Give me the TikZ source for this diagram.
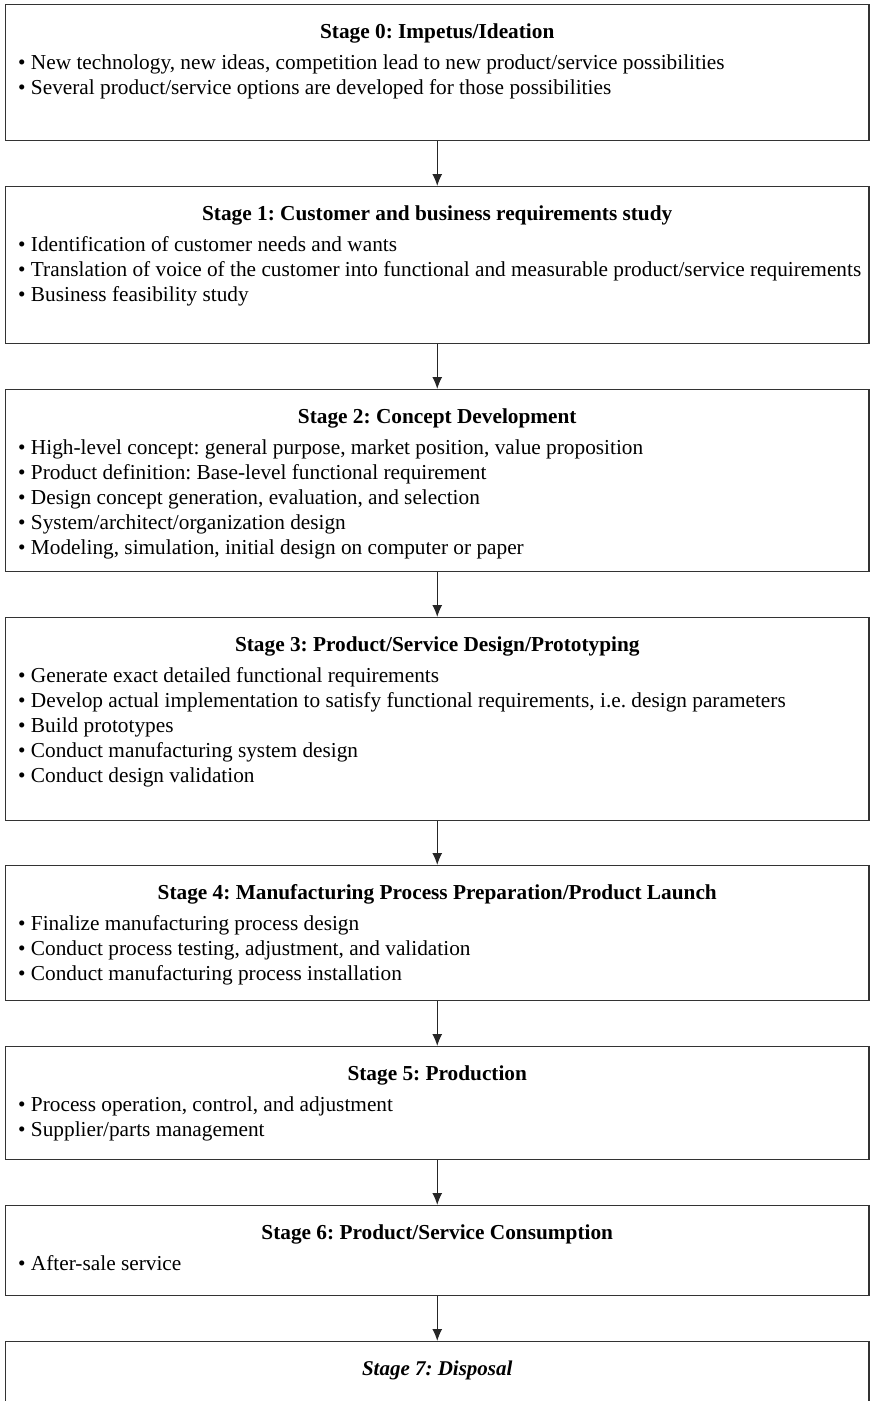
\documentclass[tikz,border=0pt]{standalone}
\usepackage{fontspec}
\setmainfont{Liberation Serif}
\usetikzlibrary{arrows.meta}
\frenchspacing

\begin{document}
\begin{tikzpicture}[x=1pt,y=-1pt,
  stagebox/.style={draw=black!80, line width=1.3pt, rectangle, minimum width=863.5pt,
    inner sep=0pt, anchor=north},
  stagetitle/.style={font=\fontsize{21.3}{25}\selectfont\bfseries, anchor=base, inner sep=0pt},
  item/.style={font=\fontsize{21.3}{25}\selectfont, anchor=base west, inner sep=0pt},
  flow/.style={draw=black!85, line width=1.2pt, -{Latex[length=12pt,width=10pt]}}]

\useasboundingbox (0,0) rectangle (871,1401);
\clip (0,0) rectangle (871,1401);

% stage boxes: top edge and height
\node[stagebox, minimum height=136pt] (s0) at (437.25,4) {};
\node[stagebox, minimum height=157pt] (s1) at (437.25,186) {};
\node[stagebox, minimum height=182pt] (s2) at (437.25,389) {};
\node[stagebox, minimum height=203pt] (s3) at (437.25,617) {};
\node[stagebox, minimum height=135pt] (s4) at (437.25,865) {};
\node[stagebox, minimum height=113pt] (s5) at (437.25,1046) {};
\node[stagebox, minimum height=90pt]  (s6) at (437.25,1205) {};
\node[stagebox, minimum height=120pt] (s7) at (437.25,1341) {};

% titles
\node[stagetitle] (t0) at (437.25,38)   {Stage 0: Impetus/Ideation};
\node[stagetitle] (t1) at (437.25,220)  {Stage 1: Customer and business requirements study};
\node[stagetitle] (t2) at (437.25,423)  {Stage 2: Concept Development};
\node[stagetitle] (t3) at (437.25,651)  {Stage 3: Product/Service Design/Prototyping};
\node[stagetitle] (t4) at (437.25,899)  {Stage 4: Manufacturing Process Preparation/Product Launch};
\node[stagetitle] (t5) at (437.25,1080) {Stage 5: Production};
\node[stagetitle] (t6) at (437.25,1239) {Stage 6: Product/Service Consumption};
\node[stagetitle, font=\fontsize{21}{25}\selectfont\bfseries\itshape] (t7) at (437.25,1375) {Stage 7: Disposal};

% bullet items
\node[item] (i01) at (18,69)  {• New technology, new ideas, competition lead to new product/service possibilities};
\node[item] (i02) at (18,94)  {• Several product/service options are developed for those possibilities};

\node[item] (i11) at (18,251) {• Identification of customer needs and wants};
\node[item] (i12) at (18,276) {• Translation of voice of the customer into functional and measurable product/service requirements};
\node[item] (i13) at (18,301) {• Business feasibility study};

\node[item] (i21) at (18,454) {• High-level concept: general purpose, market position, value proposition};
\node[item] (i22) at (18,479) {• Product definition: Base-level functional requirement};
\node[item] (i23) at (18,504) {• Design concept generation, evaluation, and selection};
\node[item] (i24) at (18,529) {• System/architect/organization design};
\node[item] (i25) at (18,554) {• Modeling, simulation, initial design on computer or paper};

\node[item] (i31) at (18,682) {• Generate exact detailed functional requirements};
\node[item] (i32) at (18,707) {• Develop actual implementation to satisfy functional requirements, i.e. design parameters};
\node[item] (i33) at (18,732) {• Build prototypes};
\node[item] (i34) at (18,757) {• Conduct manufacturing system design};
\node[item] (i35) at (18,782) {• Conduct design validation};

\node[item] (i41) at (18,930) {• Finalize manufacturing process design};
\node[item] (i42) at (18,955) {• Conduct process testing, adjustment, and validation};
\node[item] (i43) at (18,980) {• Conduct manufacturing process installation};

\node[item] (i51) at (18,1111) {• Process operation, control, and adjustment};
\node[item] (i52) at (18,1136) {• Supplier/parts management};

\node[item] (i61) at (18,1270) {• After-sale service};

% flow between stages
\draw[flow] (s0.south) -- (s1.north);
\draw[flow] (s1.south) -- (s2.north);
\draw[flow] (s2.south) -- (s3.north);
\draw[flow] (s3.south) -- (s4.north);
\draw[flow] (s4.south) -- (s5.north);
\draw[flow] (s5.south) -- (s6.north);
\draw[flow] (s6.south) -- (s7.north);
\end{tikzpicture}
\end{document}
